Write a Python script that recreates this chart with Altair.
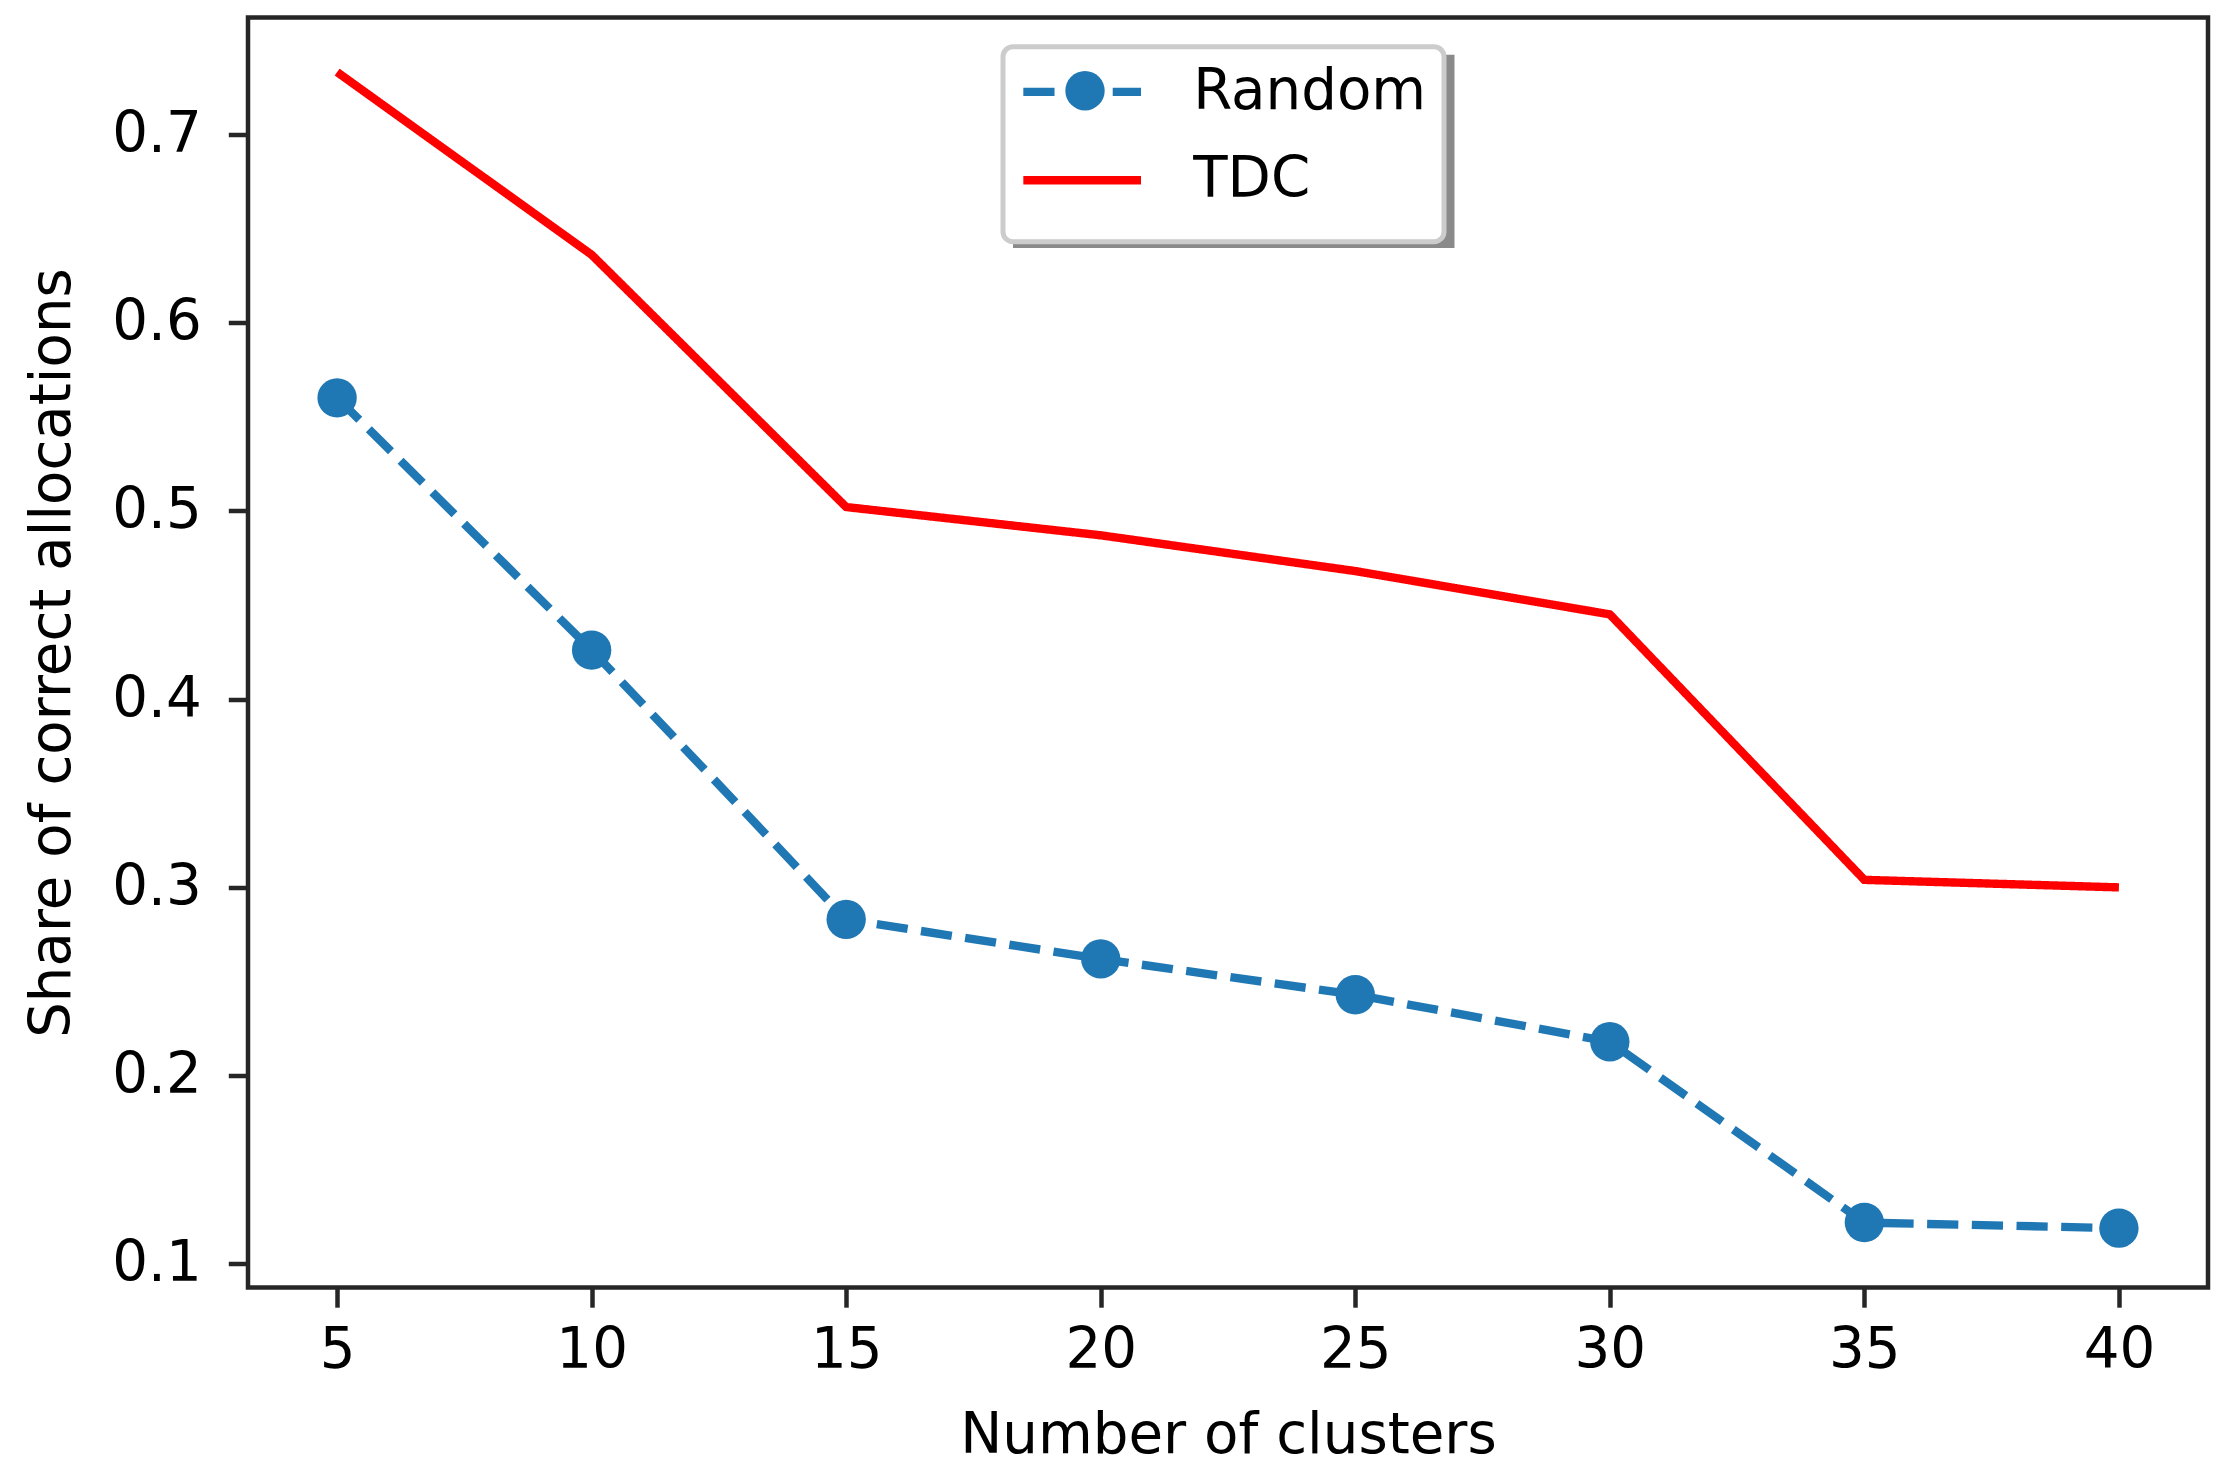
import altair as alt
import pandas as pd

# ---- data ----
clusters = [5, 10, 15, 20, 25, 30, 35, 40]
random_share = [0.560, 0.426, 0.283, 0.262, 0.243, 0.218, 0.122, 0.119]
tdc_share = [0.733, 0.636, 0.502, 0.487, 0.468, 0.445, 0.304, 0.300]
series_names = ["Random", "TDC"]
series_colors = ["#1f77b4", "#ff0000"]
x_ticks = [5, 10, 15, 20, 25, 30, 35, 40]
y_ticks = [0.1, 0.2, 0.3, 0.4, 0.5, 0.6, 0.7]

rows = []
for c, r in zip(clusters, random_share):
    rows.append({"clusters": c, "share": r, "series": "Random"})
for c, t in zip(clusters, tdc_share):
    rows.append({"clusters": c, "share": t, "series": "TDC"})
df = pd.DataFrame(rows)

FONT = "DejaVu Sans"
FS = 56.25
INK = "#262626"

x_enc = alt.X(
    "clusters:Q",
    scale=alt.Scale(domain=[3.25, 41.75], nice=False, zero=False),
    axis=alt.Axis(
        values=x_ticks, format="d", title="Number of clusters",
        labelFont=FONT, labelFontSize=FS, labelColor="black",
        tickSize=19.7, tickWidth=4.5, tickColor=INK, labelPadding=16.5,
        domain=False, grid=False, labelFlush=False, labelOverlap=False,
        titleFont=FONT, titleFontSize=FS, titleFontWeight="normal",
        titleColor="black", titlePadding=30,
    ),
)
y_enc = alt.Y(
    "share:Q",
    scale=alt.Scale(domain=[0.0875, 0.762], nice=False, zero=False),
    axis=alt.Axis(
        values=y_ticks, format=".1f", title="Share of correct allocations",
        labelFont=FONT, labelFontSize=FS, labelColor="black",
        tickSize=19.7, tickWidth=4.5, tickColor=INK, labelPadding=27,
        domain=False, grid=False, labelFlush=False, labelOverlap=False,
        titleFont=FONT, titleFontSize=FS, titleFontWeight="normal",
        titleColor="black", titlePadding=30,
    ),
)

leg_main = alt.Legend(
    title=" ", titleOrient="bottom", titleFontSize=10, titlePadding=5.5,
    orient="none", legendX=755, legendY=29.2,
    padding=17, rowPadding=31.35,
    symbolType="M-1.24,0H4.645", symbolSize=1600, symbolStrokeWidth=8.4,
    labelOffset=117, labelFont=FONT, labelFontSize=FS, labelColor="black",
    labelLimit=600,
    strokeColor="#cccccc", fillColor="white", cornerRadius=10, zindex=2,
)

base = alt.Chart(df)

lines = base.mark_line(strokeWidth=8.4).encode(
    x=x_enc, y=y_enc,
    color=alt.Color("series:N", scale=alt.Scale(domain=series_names, range=series_colors), legend=leg_main),
    strokeDash=alt.StrokeDash("series:N", scale=alt.Scale(domain=series_names, range=[[31.2, 13.5], [1, 0]]), legend=leg_main),
)

points = base.transform_filter("datum.series == 'Random'").mark_point(
    filled=True, size=1550, opacity=1, color="#1f77b4", strokeWidth=0
).encode(
    x=x_enc, y=y_enc,
    shape=alt.Shape("series:N", scale=alt.Scale(range=["circle"]), legend=alt.Legend(
        title=None, orient="none", legendX=817, legendY=53.2, padding=0,
        symbolSize=1550, symbolStrokeWidth=0, symbolFillColor="#1f77b4",
        labelExpr="''", labelFontSize=1, zindex=3,
    )),
)

shadow = base.transform_filter("false").mark_point(filled=True, opacity=1, strokeWidth=0).encode(
    x=x_enc, y=y_enc,
    fill=alt.Fill("series:N", scale=alt.Scale(domain=["Random"], range=["#8a8a8a"]), legend=alt.Legend(
        title=None, orient="none", legendX=888.75, legendY=36.85, padding=0,
        symbolType="M-2.284,-1H2.284V1H-2.284Z", symbolSize=37365, symbolStrokeWidth=0,
        labelExpr="''", labelFontSize=1, zindex=1,
    )),
)

chart = alt.layer(shadow, lines, points).properties(
    width=1960, height=1270,
    autosize=alt.AutoSizeParams(type="none"),
    padding={"left": 240, "top": 9.5, "right": 5, "bottom": 180},
    background="white",
).configure_view(
    stroke=INK, strokeWidth=4.5
).configure_legend(
    strokeWidth=5
)

chart.save("out.html", embed_options={"renderer": "svg", "actions": False})
